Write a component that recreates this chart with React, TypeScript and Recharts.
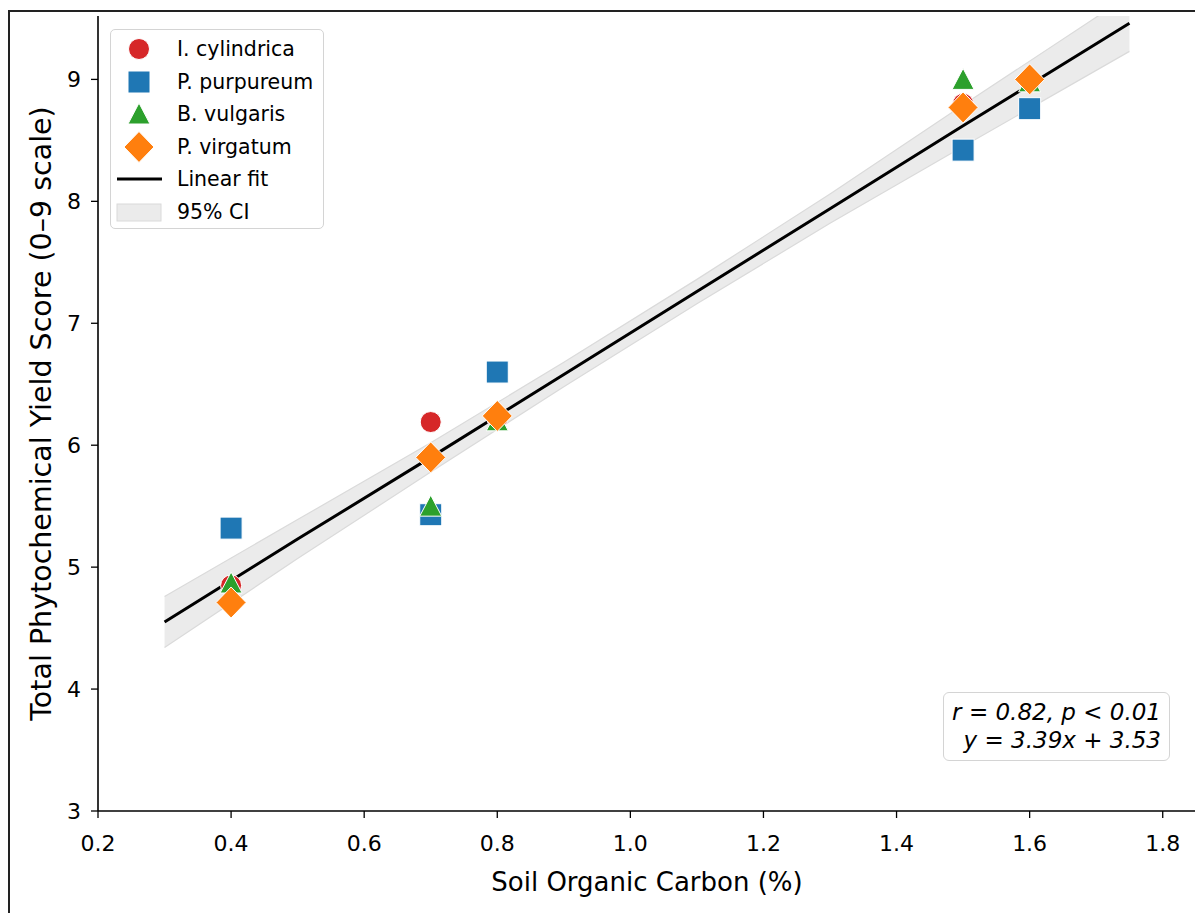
import React from "react"
import { Area, ComposedChart, Line, Scatter, XAxis, YAxis } from "recharts"

// soil organic carbon (%) per site
const soc = [0.4, 0.7, 0.8, 1.5, 1.6]

// yield score per species (0-9 scale)
const cylindrica = [4.85, 6.19, 6.22, 8.8, 8.98]
const purpureum = [5.32, 5.43, 6.6, 8.42, 8.76]
const vulgaris = [4.87, 5.5, 6.2, 9.0, 8.98]
const virgatum = [4.71, 5.9, 6.24, 8.77, 9.0]

// fit line and 95% CI
const fitX = [0.3, 0.5, 0.7, 0.9, 1.1, 1.3, 1.5, 1.75]
const fitY = [4.55, 5.23, 5.9, 6.58, 7.26, 7.94, 8.62, 9.46]
const ciLow = [4.34, 5.07, 5.78, 6.48, 7.16, 7.82, 8.45, 9.23]
const ciHigh = [4.76, 5.39, 6.02, 6.68, 7.36, 8.06, 8.79, 9.69]

const xTicks = [0.2, 0.4, 0.6, 0.8, 1.0, 1.2, 1.4, 1.6, 1.8]
const yTicks = [3, 4, 5, 6, 7, 8, 9]

const FONT = "'DejaVu Sans', sans-serif"
const RED = "#d62728"
const BLUE = "#1f77b4"
const GREEN = "#2ca02c"
const ORANGE = "#ff7f0e"

const toPoints = (ys: number[]) => soc.map((x, i) => ({ x, y: ys[i] }))
const fitData = fitX.map((x, i) => ({ x, fit: fitY[i], ci: [ciLow[i], ciHigh[i]] }))

function Marker({ kind, cx, cy, color }: { kind: string; cx: number; cy: number; color: string }) {
  const common = { fill: color, stroke: "#fff", strokeWidth: 1 }
  if (kind === "circle") return <circle cx={cx} cy={cy} r={10.5} {...common} />
  if (kind === "square") return <rect x={cx - 11} y={cy - 11} width={22} height={22} {...common} />
  if (kind === "triangle")
    return <polygon points={`${cx},${cy - 11} ${cx - 11},${cy + 10} ${cx + 11},${cy + 10}`} {...common} />
  return <polygon points={`${cx},${cy - 15.5} ${cx + 15},${cy} ${cx},${cy + 15.5} ${cx - 15},${cy}`} {...common} />
}

const shapeOf = (kind: string, color: string) => (p: any) => <Marker kind={kind} cx={p.cx} cy={p.cy} color={color} />

const legendRows = [
  { label: "I. cylindrica", kind: "circle", color: RED },
  { label: "P. purpureum", kind: "square", color: BLUE },
  { label: "B. vulgaris", kind: "triangle", color: GREEN },
  { label: "P. virgatum", kind: "diamond", color: ORANGE },
  { label: "Linear fit", kind: "line", color: "#000" },
  { label: "95% CI", kind: "patch", color: "#ebebeb" },
]

function LegendBox() {
  return (
    <div
      style={{
        position: "absolute",
        left: 102,
        top: 21,
        width: 214,
        height: 200,
        border: "1.5px solid #d4d4d4",
        borderRadius: 5,
        background: "rgba(255,255,255,0.85)",
        boxSizing: "border-box",
        paddingTop: 3,
      }}
    >
      {legendRows.map((r) => (
        <div key={r.label} style={{ height: 32.5, display: "flex", alignItems: "center" }}>
          <svg width={60} height={32} style={{ flex: "none" }}>
            {r.kind === "line" ? (
              <line x1={6} x2={51} y1={16} y2={16} stroke="#000" strokeWidth={3} />
            ) : r.kind === "patch" ? (
              <rect x={6} y={8} width={44} height={17} fill="#ebebeb" stroke="#dadada" strokeWidth={1} />
            ) : (
              <Marker kind={r.kind} cx={28} cy={16} color={r.color} />
            )}
          </svg>
          <span style={{ fontFamily: FONT, fontSize: 20.5, color: "#000", marginLeft: 6 }}>{r.label}</span>
        </div>
      ))}
    </div>
  )
}

export default function App() {
  return (
    <div style={{ position: "relative", width: 1195, height: 905, overflow: "hidden" }}>
      <div
        style={{
          position: "absolute",
          left: 0,
          top: 2,
          width: 1200,
          height: 910,
          borderTop: "2px solid #222",
          borderLeft: "2px solid #222",
        }}
      />
      <ComposedChart width={1195} height={905} margin={{ top: 8, right: 7, bottom: 0, left: 0 }}>
        <XAxis
          dataKey="x"
          type="number"
          domain={[0.2, 1.85]}
          ticks={xTicks}
          tickFormatter={(v: number) => v.toFixed(1)}
          allowDataOverflow
          height={102}
          axisLine={{ stroke: "#000", strokeWidth: 1.6 }}
          tickLine={{ stroke: "#000", strokeWidth: 1.3 }}
          tickSize={7}
          tickMargin={17}
          tick={{ fill: "#000", fontSize: 22, fontFamily: FONT }}
          label={{
            content: (p: any) => (
              <text
                x={p.viewBox.x + p.viewBox.width / 2}
                y={p.viewBox.y + 80}
                textAnchor="middle"
                fontSize={26}
                fontFamily={FONT}
                fill="#000"
              >
                Soil Organic Carbon (%)
              </text>
            ),
          }}
        />
        <YAxis
          type="number"
          domain={[3, 9.52]}
          ticks={yTicks}
          allowDataOverflow
          width={90}
          axisLine={{ stroke: "#000", strokeWidth: 1.6 }}
          tickLine={{ stroke: "#000", strokeWidth: 1.3 }}
          tickSize={7}
          tickMargin={10}
          tick={{ fill: "#000", fontSize: 22, fontFamily: FONT }}
          label={{
            content: (p: any) => {
              const cy = p.viewBox.y + p.viewBox.height / 2
              return (
                <text
                  x={43}
                  y={cy}
                  transform={`rotate(-90, 43, ${cy})`}
                  textAnchor="middle"
                  fontSize={28.5}
                  fontFamily={FONT}
                  fill="#000"
                >
                  Total Phytochemical Yield Score (0–9 scale)
                </text>
              )
            },
          }}
        />
        <Area
          data={fitData}
          dataKey="ci"
          type="linear"
          fill="#ebebeb"
          fillOpacity={1}
          stroke="#dadada"
          strokeWidth={1.2}
          isAnimationActive={false}
        />
        <Line
          data={fitData}
          dataKey="fit"
          type="linear"
          stroke="#000"
          strokeWidth={3}
          dot={false}
          activeDot={false}
          isAnimationActive={false}
        />
        <Scatter data={toPoints(cylindrica)} dataKey="y" shape={shapeOf("circle", RED)} isAnimationActive={false} />
        <Scatter data={toPoints(purpureum)} dataKey="y" shape={shapeOf("square", BLUE)} isAnimationActive={false} />
        <Scatter data={toPoints(vulgaris)} dataKey="y" shape={shapeOf("triangle", GREEN)} isAnimationActive={false} />
        <Scatter data={toPoints(virgatum)} dataKey="y" shape={shapeOf("diamond", ORANGE)} isAnimationActive={false} />
      </ComposedChart>
      <LegendBox />
      <div
        style={{
          position: "absolute",
          left: 935,
          top: 684,
          width: 227,
          height: 69,
          border: "1.5px solid #d4d4d4",
          borderRadius: 6,
          background: "#fff",
          boxSizing: "border-box",
          fontFamily: FONT,
          fontStyle: "italic",
          fontSize: 23,
          lineHeight: "28px",
          textAlign: "right",
          padding: "5px 8px 0 0",
          color: "#000",
        }}
      >
        <div>r = 0.82, p &lt; 0.01</div>
        <div>y = 3.39x + 3.53</div>
      </div>
    </div>
  )
}
